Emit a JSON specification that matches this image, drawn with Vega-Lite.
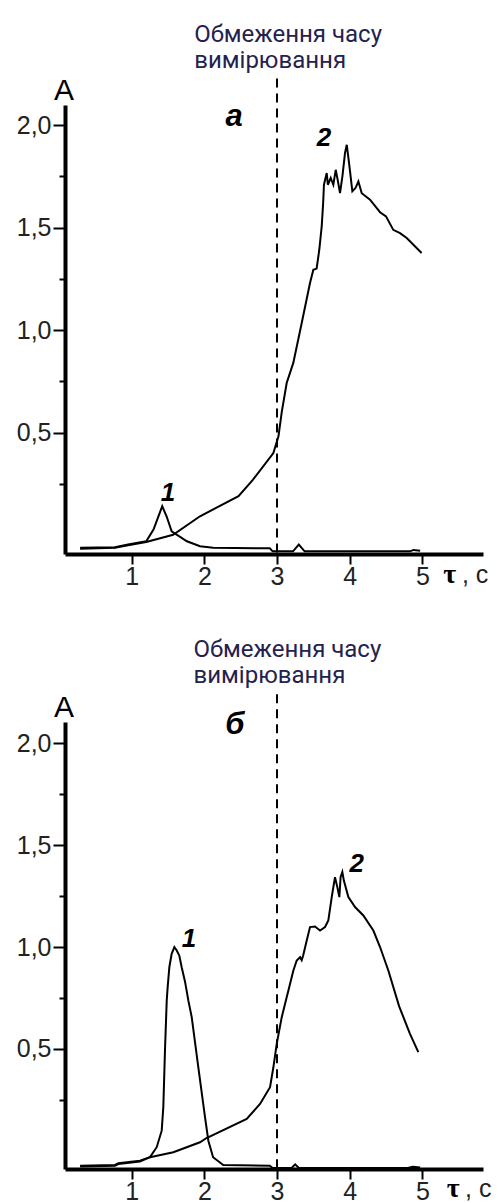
{
  "$schema": "https://vega.github.io/schema/vega-lite/v6.json",
  "background": "white",
  "padding": {"left": 16, "top": 23, "right": 5, "bottom": 5},
  "bounds": "flush",
  "spacing": 168,
  "config": {"view": {"stroke": null}},
  "datasets": {
    "curvesA": [
      {"curve": "1", "tau": 0.29, "A": -0.062}, {"curve": "1", "tau": 0.77, "A": -0.059}, {"curve": "1", "tau": 0.95, "A": -0.046}, {"curve": "1", "tau": 1.2, "A": -0.03}, {"curve": "1", "tau": 1.3, "A": 0.027}, {"curve": "1", "tau": 1.42, "A": 0.141}, {"curve": "1", "tau": 1.48, "A": 0.092}, {"curve": "1", "tau": 1.55, "A": 0.019}, {"curve": "1", "tau": 1.76, "A": -0.03}, {"curve": "1", "tau": 1.94, "A": -0.054}, {"curve": "1", "tau": 2.12, "A": -0.062}, {"curve": "1", "tau": 2.9, "A": -0.064}, {"curve": "1", "tau": 2.94, "A": -0.079}, {"curve": "1", "tau": 3.22, "A": -0.079}, {"curve": "1", "tau": 3.3, "A": -0.046}, {"curve": "1", "tau": 3.38, "A": -0.079}, {"curve": "1", "tau": 4.83, "A": -0.079}, {"curve": "1", "tau": 4.88, "A": -0.072}, {"curve": "1", "tau": 4.97, "A": -0.076},
      {"curve": "2", "tau": 0.29, "A": -0.066}, {"curve": "2", "tau": 0.77, "A": -0.062}, {"curve": "2", "tau": 0.95, "A": -0.049}, {"curve": "2", "tau": 1.2, "A": -0.033}, {"curve": "2", "tau": 1.57, "A": 0.002}, {"curve": "2", "tau": 1.94, "A": 0.092}, {"curve": "2", "tau": 2.47, "A": 0.19}, {"curve": "2", "tau": 2.67, "A": 0.271}, {"curve": "2", "tau": 2.95, "A": 0.4}, {"curve": "2", "tau": 3.02, "A": 0.482}, {"curve": "2", "tau": 3.065, "A": 0.6}, {"curve": "2", "tau": 3.133, "A": 0.742}, {"curve": "2", "tau": 3.224, "A": 0.84}, {"curve": "2", "tau": 3.34, "A": 1.035}, {"curve": "2", "tau": 3.454, "A": 1.23}, {"curve": "2", "tau": 3.5, "A": 1.294}, {"curve": "2", "tau": 3.545, "A": 1.3}, {"curve": "2", "tau": 3.582, "A": 1.392}, {"curve": "2", "tau": 3.615, "A": 1.506}, {"curve": "2", "tau": 3.635, "A": 1.62}, {"curve": "2", "tau": 3.646, "A": 1.709}, {"curve": "2", "tau": 3.684, "A": 1.766}, {"curve": "2", "tau": 3.7, "A": 1.709}, {"curve": "2", "tau": 3.739, "A": 1.742}, {"curve": "2", "tau": 3.775, "A": 1.709}, {"curve": "2", "tau": 3.808, "A": 1.782}, {"curve": "2", "tau": 3.835, "A": 1.733}, {"curve": "2", "tau": 3.867, "A": 1.668}, {"curve": "2", "tau": 3.9, "A": 1.75}, {"curve": "2", "tau": 3.936, "A": 1.864}, {"curve": "2", "tau": 3.96, "A": 1.904}, {"curve": "2", "tau": 3.98, "A": 1.847}, {"curve": "2", "tau": 4.005, "A": 1.774}, {"curve": "2", "tau": 4.037, "A": 1.677}, {"curve": "2", "tau": 4.08, "A": 1.693}, {"curve": "2", "tau": 4.12, "A": 1.725}, {"curve": "2", "tau": 4.166, "A": 1.668}, {"curve": "2", "tau": 4.28, "A": 1.636}, {"curve": "2", "tau": 4.418, "A": 1.575}, {"curve": "2", "tau": 4.5, "A": 1.555}, {"curve": "2", "tau": 4.6, "A": 1.489}, {"curve": "2", "tau": 4.693, "A": 1.473}, {"curve": "2", "tau": 4.785, "A": 1.449}, {"curve": "2", "tau": 4.99, "A": 1.376}
    ],
    "curvesB": [
      {"curve": "1", "tau": 0.29, "A": -0.073}, {"curve": "1", "tau": 0.77, "A": -0.069}, {"curve": "1", "tau": 0.816, "A": -0.061}, {"curve": "1", "tau": 1.114, "A": -0.048}, {"curve": "1", "tau": 1.252, "A": -0.031}, {"curve": "1", "tau": 1.344, "A": 0.018}, {"curve": "1", "tau": 1.413, "A": 0.099}, {"curve": "1", "tau": 1.435, "A": 0.214}, {"curve": "1", "tau": 1.458, "A": 0.492}, {"curve": "1", "tau": 1.482, "A": 0.737}, {"curve": "1", "tau": 1.495, "A": 0.803}, {"curve": "1", "tau": 1.518, "A": 0.901}, {"curve": "1", "tau": 1.55, "A": 0.967}, {"curve": "1", "tau": 1.587, "A": 1.0}, {"curve": "1", "tau": 1.62, "A": 0.983}, {"curve": "1", "tau": 1.655, "A": 0.958}, {"curve": "1", "tau": 1.688, "A": 0.901}, {"curve": "1", "tau": 1.734, "A": 0.83}, {"curve": "1", "tau": 1.78, "A": 0.737}, {"curve": "1", "tau": 1.826, "A": 0.656}, {"curve": "1", "tau": 1.917, "A": 0.41}, {"curve": "1", "tau": 2.009, "A": 0.165}, {"curve": "1", "tau": 2.055, "A": 0.05}, {"curve": "1", "tau": 2.12, "A": -0.031}, {"curve": "1", "tau": 2.26, "A": -0.069}, {"curve": "1", "tau": 2.9, "A": -0.073}, {"curve": "1", "tau": 2.94, "A": -0.084}, {"curve": "1", "tau": 3.2, "A": -0.084}, {"curve": "1", "tau": 3.25, "A": -0.066}, {"curve": "1", "tau": 3.3, "A": -0.084}, {"curve": "1", "tau": 4.8, "A": -0.084}, {"curve": "1", "tau": 4.87, "A": -0.078}, {"curve": "1", "tau": 4.97, "A": -0.082},
      {"curve": "2", "tau": 0.29, "A": -0.077}, {"curve": "2", "tau": 0.77, "A": -0.073}, {"curve": "2", "tau": 0.816, "A": -0.065}, {"curve": "2", "tau": 1.114, "A": -0.052}, {"curve": "2", "tau": 1.252, "A": -0.031}, {"curve": "2", "tau": 1.573, "A": -0.007}, {"curve": "2", "tau": 1.94, "A": 0.042}, {"curve": "2", "tau": 2.03, "A": 0.063}, {"curve": "2", "tau": 2.583, "A": 0.157}, {"curve": "2", "tau": 2.766, "A": 0.23}, {"curve": "2", "tau": 2.904, "A": 0.312}, {"curve": "2", "tau": 2.95, "A": 0.41}, {"curve": "2", "tau": 2.996, "A": 0.525}, {"curve": "2", "tau": 3.065, "A": 0.656}, {"curve": "2", "tau": 3.133, "A": 0.754}, {"curve": "2", "tau": 3.156, "A": 0.786}, {"curve": "2", "tau": 3.225, "A": 0.885}, {"curve": "2", "tau": 3.271, "A": 0.934}, {"curve": "2", "tau": 3.317, "A": 0.95}, {"curve": "2", "tau": 3.34, "A": 0.935}, {"curve": "2", "tau": 3.36, "A": 0.958}, {"curve": "2", "tau": 3.409, "A": 1.032}, {"curve": "2", "tau": 3.454, "A": 1.098}, {"curve": "2", "tau": 3.523, "A": 1.101}, {"curve": "2", "tau": 3.592, "A": 1.081}, {"curve": "2", "tau": 3.661, "A": 1.098}, {"curve": "2", "tau": 3.706, "A": 1.13}, {"curve": "2", "tau": 3.753, "A": 1.245}, {"curve": "2", "tau": 3.798, "A": 1.343}, {"curve": "2", "tau": 3.83, "A": 1.294}, {"curve": "2", "tau": 3.858, "A": 1.245}, {"curve": "2", "tau": 3.875, "A": 1.343}, {"curve": "2", "tau": 3.899, "A": 1.368}, {"curve": "2", "tau": 3.92, "A": 1.326}, {"curve": "2", "tau": 3.982, "A": 1.245}, {"curve": "2", "tau": 4.074, "A": 1.196}, {"curve": "2", "tau": 4.188, "A": 1.155}, {"curve": "2", "tau": 4.326, "A": 1.081}, {"curve": "2", "tau": 4.418, "A": 1.0}, {"curve": "2", "tau": 4.532, "A": 0.885}, {"curve": "2", "tau": 4.68, "A": 0.71}, {"curve": "2", "tau": 4.83, "A": 0.574}, {"curve": "2", "tau": 4.945, "A": 0.484}
    ]
  },
  "vconcat": [
    {
      "width": 418,
      "height": 449,
      "layer": [
        {
          "data": {"name": "curvesA"},
          "mark": {"type": "line", "color": "black", "strokeWidth": 2},
          "encoding": {
            "detail": {"field": "curve"},
            "x": {"field": "tau", "type": "quantitative", "scale": {"domain": [0.082, 5.835], "nice": false, "zero": false}, "axis": {"values": [1, 2, 3, 4, 5], "format": "d", "title": null, "grid": false, "domainWidth": 4, "domainColor": "#000000", "tickColor": "#000000", "tickWidth": 2, "tickSize": 10, "labelFont": "Liberation Sans", "labelFontSize": 25, "labelColor": "#222222", "labelPadding": 0}},
            "y": {"field": "A", "type": "quantitative", "scale": {"domain": [-0.092, 2.098], "nice": false, "zero": false}, "axis": {"values": [0.25, 0.5, 0.75, 1, 1.25, 1.5, 1.75, 2], "labelExpr": "datum.value % 0.5 === 0 ? replace(format(datum.value, '.1f'), '.', ',') : ''", "grid": false, "domainWidth": 4, "domainColor": "#000000", "tickColor": "#000000", "tickWidth": 2, "tickSize": {"condition": {"test": "datum.value % 0.5 === 0", "value": 12}, "value": 6}, "labelFont": "Liberation Sans", "labelFontSize": 25, "labelColor": "#222222", "labelPadding": 2, "title": "А", "titleAngle": 0, "titleAlign": "center", "titleBaseline": "alphabetic", "titleX": -1.5, "titleY": -6, "titleFont": "Liberation Sans", "titleFontSize": 30, "titleFontWeight": "normal", "titleColor": "black"}}
          }
        },
        {
          "data": {"values": [{"tau": 3, "A": -0.085, "A2": 2.24}]},
          "mark": {"type": "rule", "color": "black", "strokeWidth": 2, "strokeDash": [9, 6]},
          "encoding": {"x": {"field": "tau", "type": "quantitative"}, "y": {"field": "A", "type": "quantitative"}, "y2": {"field": "A2"}}
        },
        {
          "data": {"values": [{"tau": 1.86, "A": 2.405, "text": "Обмеження часу\nвимірювання"}]},
          "mark": {"type": "text", "align": "left", "baseline": "alphabetic", "font": "Roboto", "fontSize": 24, "color": "#24214f", "lineBreak": "\n", "lineHeight": 26},
          "encoding": {"x": {"field": "tau", "type": "quantitative"}, "y": {"field": "A", "type": "quantitative"}, "text": {"field": "text"}}
        },
        {
          "data": {"values": [{"tau": 1.499, "A": 0.167, "text": "1"}, {"tau": 3.647, "A": 1.899, "text": "2"}]},
          "mark": {"type": "text", "align": "center", "baseline": "alphabetic", "font": "Liberation Sans", "fontSize": 26, "fontWeight": "bold", "fontStyle": "italic", "color": "black"},
          "encoding": {"x": {"field": "tau", "type": "quantitative"}, "y": {"field": "A", "type": "quantitative"}, "text": {"field": "text"}}
        },
        {
          "data": {"values": [{"tau": 2.408, "A": 1.995, "text": "а"}]},
          "mark": {"type": "text", "align": "center", "baseline": "alphabetic", "font": "Liberation Sans", "fontSize": 31, "fontWeight": "bold", "fontStyle": "italic", "color": "black"},
          "encoding": {"x": {"field": "tau", "type": "quantitative"}, "y": {"field": "A", "type": "quantitative"}, "text": {"field": "text"}}
        },
        {
          "data": {"values": [{"tau": 5.289, "A": -0.233, "text": "τ"}]},
          "mark": {"type": "text", "align": "left", "baseline": "alphabetic", "font": "Liberation Serif", "fontSize": 28, "fontWeight": "bold", "color": "black"},
          "encoding": {"x": {"field": "tau", "type": "quantitative"}, "y": {"field": "A", "type": "quantitative"}, "text": {"field": "text"}}
        },
        {
          "data": {"values": [{"tau": 5.545, "A": -0.233, "text": ", с"}]},
          "mark": {"type": "text", "align": "left", "baseline": "alphabetic", "font": "Liberation Sans", "fontSize": 25, "color": "#222222"},
          "encoding": {"x": {"field": "tau", "type": "quantitative"}, "y": {"field": "A", "type": "quantitative"}, "text": {"field": "text"}}
        }
      ]
    },
    {
      "width": 418,
      "height": 447,
      "layer": [
        {
          "data": {"name": "curvesB"},
          "mark": {"type": "line", "color": "black", "strokeWidth": 2},
          "encoding": {
            "detail": {"field": "curve"},
            "x": {"field": "tau", "type": "quantitative", "scale": {"domain": [0.082, 5.835], "nice": false, "zero": false}, "axis": {"values": [1, 2, 3, 4, 5], "format": "d", "title": null, "grid": false, "domainWidth": 4, "domainColor": "#000000", "tickColor": "#000000", "tickWidth": 2, "tickSize": 10, "labelFont": "Liberation Sans", "labelFontSize": 25, "labelColor": "#222222", "labelPadding": 0}},
            "y": {"field": "A", "type": "quantitative", "scale": {"domain": [-0.089, 2.104], "nice": false, "zero": false}, "axis": {"values": [0.25, 0.5, 0.75, 1, 1.25, 1.5, 1.75, 2], "labelExpr": "datum.value % 0.5 === 0 ? replace(format(datum.value, '.1f'), '.', ',') : ''", "grid": false, "domainWidth": 4, "domainColor": "#000000", "tickColor": "#000000", "tickWidth": 2, "tickSize": {"condition": {"test": "datum.value % 0.5 === 0", "value": 12}, "value": 6}, "labelFont": "Liberation Sans", "labelFontSize": 25, "labelColor": "#222222", "labelPadding": 2, "title": "А", "titleAngle": 0, "titleAlign": "center", "titleBaseline": "alphabetic", "titleX": -1.5, "titleY": -5.5, "titleFont": "Liberation Sans", "titleFontSize": 30, "titleFontWeight": "normal", "titleColor": "black"}}
          }
        },
        {
          "data": {"values": [{"tau": 3, "A": -0.085, "A2": 2.254}]},
          "mark": {"type": "rule", "color": "black", "strokeWidth": 2, "strokeDash": [9, 6]},
          "encoding": {"x": {"field": "tau", "type": "quantitative"}, "y": {"field": "A", "type": "quantitative"}, "y2": {"field": "A2"}}
        },
        {
          "data": {"values": [{"tau": 1.85, "A": 2.425, "text": "Обмеження часу\nвимірювання"}]},
          "mark": {"type": "text", "align": "left", "baseline": "alphabetic", "font": "Roboto", "fontSize": 24, "color": "#24214f", "lineBreak": "\n", "lineHeight": 26},
          "encoding": {"x": {"field": "tau", "type": "quantitative"}, "y": {"field": "A", "type": "quantitative"}, "text": {"field": "text"}}
        },
        {
          "data": {"values": [{"tau": 1.789, "A": 1.0, "text": "1"}, {"tau": 4.097, "A": 1.368, "text": "2"}]},
          "mark": {"type": "text", "align": "center", "baseline": "alphabetic", "font": "Liberation Sans", "fontSize": 26, "fontWeight": "bold", "fontStyle": "italic", "color": "black"},
          "encoding": {"x": {"field": "tau", "type": "quantitative"}, "y": {"field": "A", "type": "quantitative"}, "text": {"field": "text"}}
        },
        {
          "data": {"values": [{"tau": 2.42, "A": 2.047, "text": "б"}]},
          "mark": {"type": "text", "align": "center", "baseline": "alphabetic", "font": "Liberation Sans", "fontSize": 31, "fontWeight": "bold", "fontStyle": "italic", "color": "black"},
          "encoding": {"x": {"field": "tau", "type": "quantitative"}, "y": {"field": "A", "type": "quantitative"}, "text": {"field": "text"}}
        },
        {
          "data": {"values": [{"tau": 5.336, "A": -0.226, "text": "τ"}]},
          "mark": {"type": "text", "align": "left", "baseline": "alphabetic", "font": "Liberation Serif", "fontSize": 28, "fontWeight": "bold", "color": "black"},
          "encoding": {"x": {"field": "tau", "type": "quantitative"}, "y": {"field": "A", "type": "quantitative"}, "text": {"field": "text"}}
        },
        {
          "data": {"values": [{"tau": 5.588, "A": -0.226, "text": ", с"}]},
          "mark": {"type": "text", "align": "left", "baseline": "alphabetic", "font": "Liberation Sans", "fontSize": 25, "color": "#222222"},
          "encoding": {"x": {"field": "tau", "type": "quantitative"}, "y": {"field": "A", "type": "quantitative"}, "text": {"field": "text"}}
        }
      ]
    }
  ]
}
